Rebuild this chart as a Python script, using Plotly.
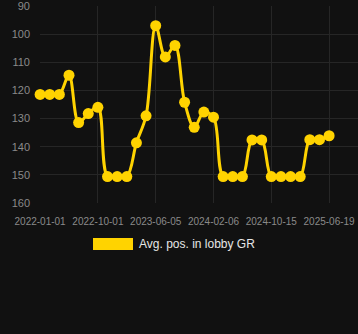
import plotly.graph_objects as go

dates = ["2022-01-01", "2022-02-15", "2022-04-01", "2022-05-16", "2022-07-01", "2022-08-16",
         "2022-10-01", "2022-11-11", "2022-12-22", "2023-02-01", "2023-03-14", "2023-04-24",
         "2023-06-05", "2023-07-16", "2023-08-26", "2023-10-06", "2023-11-16", "2023-12-27",
         "2024-02-06", "2024-03-18", "2024-04-29", "2024-06-09", "2024-07-21", "2024-09-02",
         "2024-10-15", "2024-11-25", "2025-01-05", "2025-02-15", "2025-03-28", "2025-05-08",
         "2025-06-19"]
positions = [121.4, 121.4, 121.4, 114.6, 131.4, 128.2, 126.0, 150.6, 150.6, 150.6, 138.6,
             129.0, 97.0, 108.1, 104.0, 124.2, 133.1, 127.7, 129.5, 150.6, 150.6, 150.6,
             137.6, 137.6, 150.6, 150.6, 150.6, 150.6, 137.5, 137.5, 136.1]
tick_dates = ["2022-01-01", "2022-10-01", "2023-06-05", "2024-02-06", "2024-10-15", "2025-06-19"]
y_ticks = [90, 100, 110, 120, 130, 140, 150, 160]
series_name = "Avg. pos. in lobby GR"

gold = "#FFD300"
bg = "#111111"
grid = "#262626"
tick_col = "#8a8a8a"

fig = go.Figure()
fig.add_trace(go.Scatter(
    x=dates, y=positions, mode="lines+markers", name=series_name,
    line=dict(color=gold, width=3, shape="spline", smoothing=1.0),
    marker=dict(color=gold, size=11),
    cliponaxis=False,
    showlegend=False,
))

fig.update_layout(
    width=358, height=334,
    paper_bgcolor=bg, plot_bgcolor=bg,
    margin=dict(l=40, r=0, t=6, b=131),
    font=dict(family="Liberation Sans, Arial, sans-serif", color=tick_col),
    xaxis=dict(
        type="category", range=[-0.01, 33],
        tickvals=tick_dates, ticktext=tick_dates,
        showgrid=True, gridcolor=grid, gridwidth=1,
        zeroline=False, showline=False,
        tickfont=dict(size=10, color=tick_col),
        ticks="", ticklabelstandoff=11, ticklabeloverflow="allow",
    ),
    yaxis=dict(
        range=[160, 89.99], tickvals=y_ticks,
        showgrid=True, gridcolor=grid, gridwidth=1,
        zeroline=False, showline=False,
        tickfont=dict(size=11, color=tick_col),
        ticks="", ticklabelstandoff=9, ticklabeloverflow="allow",
    ),
    showlegend=False,
)

# legend (drawn manually to match rectangular swatch)
plot_bottom = 203
plot_h = 197
fig.add_shape(type="rect", xref="paper", yref="paper",
              x0=(93 - 40) / 318, x1=(133 - 40) / 318,
              y0=(plot_bottom - 250) / plot_h, y1=(plot_bottom - 238) / plot_h,
              fillcolor=gold, line=dict(width=0))
fig.add_annotation(xref="paper", yref="paper", x=(137 - 40) / 318,
                   y=(plot_bottom - 244) / plot_h,
                   xanchor="left", yanchor="middle", showarrow=False,
                   text=series_name, font=dict(size=12, color="#e6e6e6"))

fig.write_html("out.html")
